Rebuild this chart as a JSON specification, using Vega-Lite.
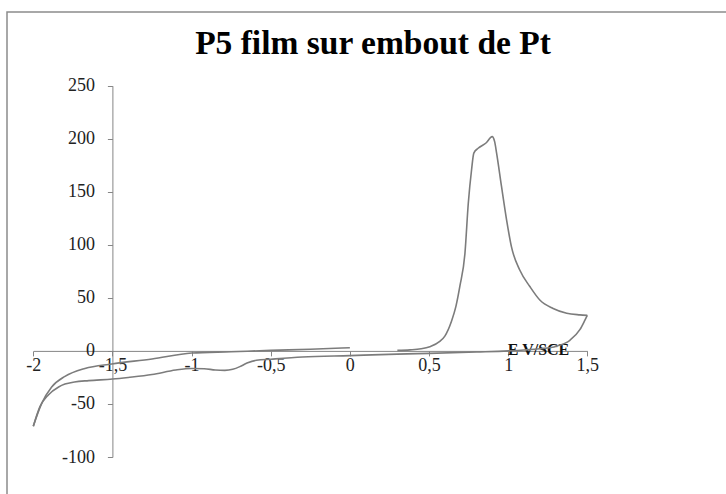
{
  "$schema": "https://vega.github.io/schema/vega-lite/v6.json",
  "width": 730,
  "height": 490,
  "autosize": "none",
  "padding": {"left": 7, "top": 12, "right": 0, "bottom": 0},
  "background": "white",
  "title": {
    "text": "P5 film sur embout de Pt",
    "font": "Liberation Serif",
    "fontWeight": "bold",
    "fontSize": 33.5,
    "color": "#000000",
    "anchor": "middle",
    "dx": 1,
    "offset": -75,
    "baseline": "alphabetic"
  },
  "config": {
    "view": {"stroke": "#8c8c8c", "strokeWidth": 1.5}
  },
  "data": {
    "values": [
      {"E": 0.30, "I": 0.5, "branche": "aller"},
      {"E": 0.38, "I": 1, "branche": "aller"},
      {"E": 0.45, "I": 2, "branche": "aller"},
      {"E": 0.505, "I": 4, "branche": "aller"},
      {"E": 0.568, "I": 9, "branche": "aller"},
      {"E": 0.60, "I": 14, "branche": "aller"},
      {"E": 0.642, "I": 28, "branche": "aller"},
      {"E": 0.67, "I": 42, "branche": "aller"},
      {"E": 0.695, "I": 61, "branche": "aller"},
      {"E": 0.727, "I": 92, "branche": "aller"},
      {"E": 0.748, "I": 139, "branche": "aller"},
      {"E": 0.769, "I": 171, "branche": "aller"},
      {"E": 0.783, "I": 186.5, "branche": "aller"},
      {"E": 0.81, "I": 191, "branche": "aller"},
      {"E": 0.86, "I": 196, "branche": "aller"},
      {"E": 0.899, "I": 202, "branche": "aller"},
      {"E": 0.915, "I": 197, "branche": "aller"},
      {"E": 0.927, "I": 186.5, "branche": "aller"},
      {"E": 0.958, "I": 155, "branche": "aller"},
      {"E": 0.99, "I": 123.6, "branche": "aller"},
      {"E": 1.021, "I": 98, "branche": "aller"},
      {"E": 1.074, "I": 76, "branche": "aller"},
      {"E": 1.137, "I": 60.7, "branche": "aller"},
      {"E": 1.2, "I": 48, "branche": "aller"},
      {"E": 1.284, "I": 40, "branche": "aller"},
      {"E": 1.37, "I": 35.5, "branche": "aller"},
      {"E": 1.453, "I": 34, "branche": "aller"},
      {"E": 1.5, "I": 33.5, "branche": "aller"},

      {"E": 1.5, "I": 33.5, "branche": "retour"},
      {"E": 1.485, "I": 29, "branche": "retour"},
      {"E": 1.453, "I": 20, "branche": "retour"},
      {"E": 1.39, "I": 10, "branche": "retour"},
      {"E": 1.305, "I": 4.5, "branche": "retour"},
      {"E": 1.2, "I": 2, "branche": "retour"},
      {"E": 1.1, "I": 0.8, "branche": "retour"},
      {"E": 1.0, "I": 0, "branche": "retour"},
      {"E": 0.8, "I": -1, "branche": "retour"},
      {"E": 0.5, "I": -2.3, "branche": "retour"},
      {"E": 0.3, "I": -3, "branche": "retour"},
      {"E": 0.0, "I": -4.4, "branche": "retour"},
      {"E": -0.3, "I": -5.8, "branche": "retour"},
      {"E": -0.5, "I": -7.8, "branche": "retour"},
      {"E": -0.59, "I": -8.8, "branche": "retour"},
      {"E": -0.65, "I": -11.5, "branche": "retour"},
      {"E": -0.695, "I": -14.8, "branche": "retour"},
      {"E": -0.74, "I": -17.3, "branche": "retour"},
      {"E": -0.79, "I": -18.3, "branche": "retour"},
      {"E": -0.85, "I": -18, "branche": "retour"},
      {"E": -0.92, "I": -16.8, "branche": "retour"},
      {"E": -1.0, "I": -16.6, "branche": "retour"},
      {"E": -1.1, "I": -18, "branche": "retour"},
      {"E": -1.25, "I": -22.3, "branche": "retour"},
      {"E": -1.4, "I": -25, "branche": "retour"},
      {"E": -1.5, "I": -26.5, "branche": "retour"},
      {"E": -1.65, "I": -28, "branche": "retour"},
      {"E": -1.74, "I": -29.3, "branche": "retour"},
      {"E": -1.8, "I": -31.3, "branche": "retour"},
      {"E": -1.84, "I": -34, "branche": "retour"},
      {"E": -1.905, "I": -41.5, "branche": "retour"},
      {"E": -1.958, "I": -52.5, "branche": "retour"},
      {"E": -2.0, "I": -71, "branche": "retour"},

      {"E": -2.0, "I": -71, "branche": "remontee"},
      {"E": -1.947, "I": -49.5, "branche": "remontee"},
      {"E": -1.884, "I": -34, "branche": "remontee"},
      {"E": -1.8, "I": -24, "branche": "remontee"},
      {"E": -1.674, "I": -16.5, "branche": "remontee"},
      {"E": -1.505, "I": -12.3, "branche": "remontee"},
      {"E": -1.25, "I": -7.6, "branche": "remontee"},
      {"E": -1.0, "I": -2, "branche": "remontee"},
      {"E": -0.75, "I": -0.8, "branche": "remontee"},
      {"E": -0.5, "I": 0.5, "branche": "remontee"},
      {"E": -0.25, "I": 1.6, "branche": "remontee"},
      {"E": 0.0, "I": 3, "branche": "remontee"}
    ]
  },
  "mark": {"type": "line", "interpolate": "monotone", "color": "#7c7c7c", "strokeWidth": 1.6},
  "encoding": {
    "x": {
      "field": "E",
      "type": "quantitative",
      "scale": {"domain": [-2, 1.5], "range": [26.3, 580.3], "nice": false, "zero": false},
      "axis": {
        "values": [-2, -1.5, -1, -0.5, 0, 0.5, 1, 1.5],
        "offset": -151.1,
        "grid": false,
        "domainColor": "#868686",
        "tickColor": "#868686",
        "tickSize": 5,
        "labelFont": "Liberation Serif",
        "labelFontSize": 18,
        "labelColor": "#222222",
        "labelPadding": 1,
        "labelFlush": false,
        "labelOverlap": false,
        "labelExpr": "replace(toString(datum.value), '.', ',')",
        "title": "E V/SCE",
        "titleFont": "Liberation Serif",
        "titleFontWeight": "bold",
        "titleFontSize": 16,
        "titleColor": "#111111",
        "titleX": 531,
        "titleY": -1,
        "titleBaseline": "middle",
        "titleAlign": "center"
      }
    },
    "y": {
      "field": "I",
      "type": "quantitative",
      "scale": {"domain": [-100, 250], "range": [445, 73.7], "nice": false, "zero": false},
      "axis": {
        "values": [-100, -50, 0, 50, 100, 150, 200, 250],
        "offset": -105.4,
        "grid": false,
        "domainColor": "#868686",
        "tickColor": "#868686",
        "tickSize": 5,
        "labelFont": "Liberation Serif",
        "labelFontSize": 18,
        "labelColor": "#222222",
        "labelPadding": 13,
        "labelOverlap": false,
        "labelExpr": "toString(datum.value)",
        "title": null
      }
    },
    "detail": {"field": "branche"}
  }
}
